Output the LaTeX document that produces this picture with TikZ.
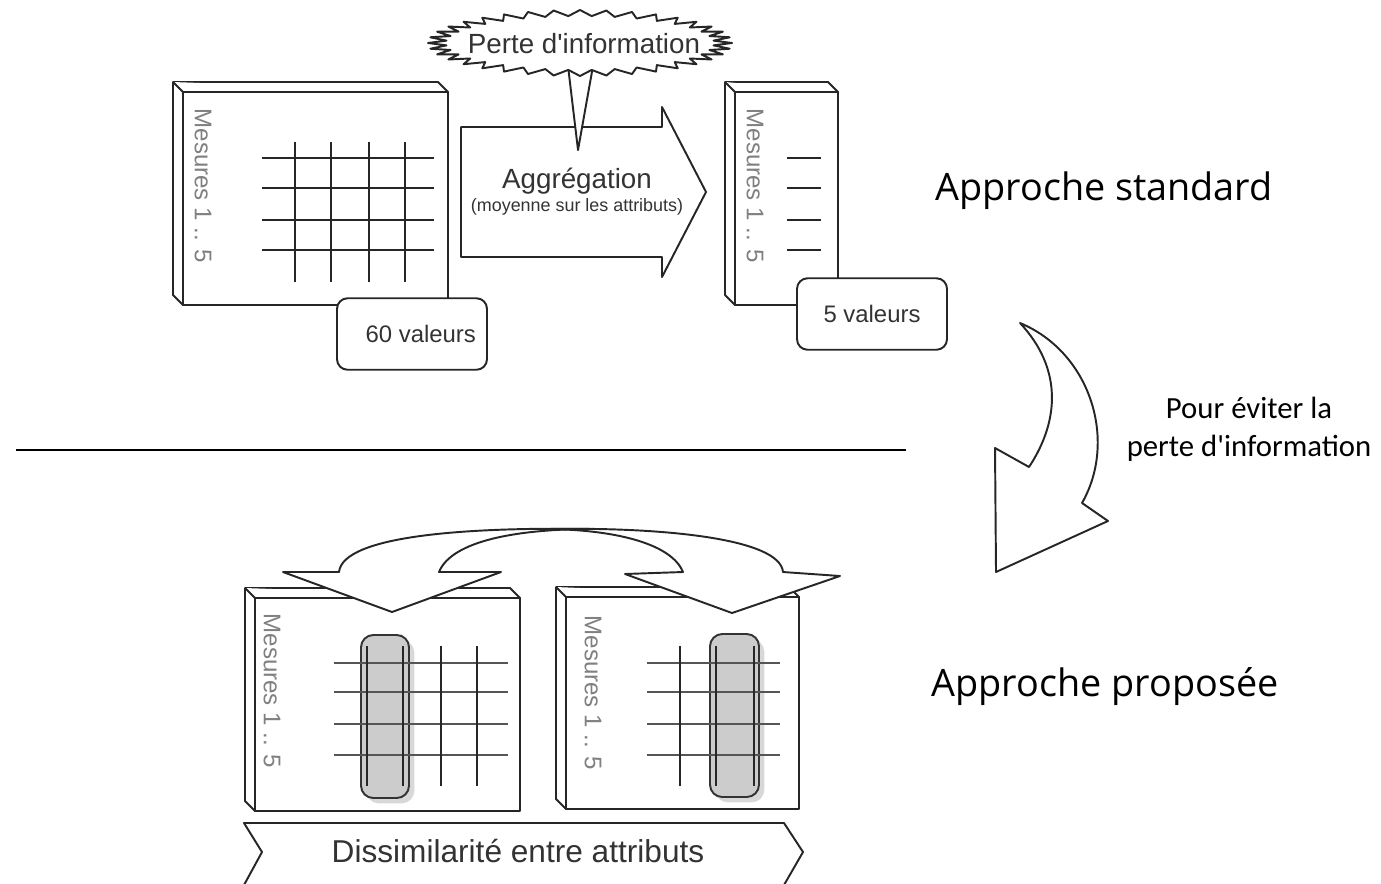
\documentclass[tikz,border=0pt]{standalone}
\usepackage{fontspec}
\setmainfont{Liberation Sans}
\newfontfamily\titlefont{Open Sans}
\newfontfamily\notefont{Carlito}
\usetikzlibrary{positioning,shadows}
\definecolor{txtgray}{HTML}{333333}
\definecolor{lblgray}{HTML}{808080}
\definecolor{hlgray}{HTML}{CCCCCC}
\definecolor{rulegray}{HTML}{555555}
\newcommand{\slabbox}[4]{%
  \draw[slab] (#1,#2) -- (#3-10,#2) -- (#3,#2+10) -- (#3,#4) -- (#1+10,#4) -- (#1,#4-10) -- cycle;
  \draw[slab] (#1,#2) -- (#1+10,#2+10) -- (#3,#2+10) (#1+10,#2+10) -- (#1+10,#4);
}

\begin{document}
\begin{tikzpicture}[x=0.02cm,y=-0.02cm,
  outline/.style={draw=black!85,line width=1.1pt,fill=white,line join=round},
  slab/.style={outline},
  gridline/.style={draw=black!85,line width=1.1pt},
  softline/.style={draw=rulegray,line width=1.4pt},
  lbl/.style={text=lblgray,font=\fontsize{13.7}{16}\selectfont,rotate=-90},
  valbox/.style={outline,rounded corners=6pt,minimum width=3cm,minimum height=1.43cm,
    text=txtgray,font=\fontsize{13.6}{16}\selectfont},
  hl/.style={draw=black!80,line width=1.1pt,fill=hlgray,rounded corners=7pt,
    drop shadow={opacity=0.3,shadow xshift=3pt,shadow yshift=-3pt}},
  title/.style={font=\titlefont\fontsize{21.5}{26}\selectfont},
  big/.style={text=txtgray,font=\fontsize{15.8}{19}\selectfont},
  small/.style={text=txtgray,font=\fontsize{10.2}{12}\selectfont},
  note/.style={font=\notefont\fontsize{17.5}{21.6}\selectfont,align=center}]
\useasboundingbox (0,0) rectangle (1381,883);

\slabbox{173}{82}{448}{305}
\foreach \y in {158,188,220,250} \draw[gridline] (262,\y) -- (434,\y);
\foreach \x in {295,331,369,405} \draw[gridline] (\x,142) -- (\x,282);
\node[lbl] (mesA) at (203,186) {Mesures 1 .. 5};
\node[valbox] (val60) at (412,334) {\hspace{10pt}60 valeurs};

\draw[outline] (461,127) -- (662,127) -- (662,107) -- (706,192) -- (662,277) -- (662,257) -- (461,257) -- cycle;
\node[big] (agg) at (577,181) {Aggrégation};
\node[small] (aggnote) at (577,207) {(moyenne sur les attributs)};

\draw[outline] (568,66) -- (578,150) -- (593,66);
\draw[outline] (732,43) \foreach \a in {0,10,...,350} { -- ({580+134*cos(\a+5)},{43+27*sin(\a+5)}) -- ({580+152*cos(\a+10)},{43+33*sin(\a+10)}) } -- cycle;
\node[big] (loss) at (584,44) {Perte d\textquotesingle information};

\slabbox{725}{82}{838}{305}
\foreach \y in {158,188,220,250} \draw[gridline] (787,\y) -- (821,\y);
\node[lbl] (mesB) at (755,186) {Mesures 1 .. 5};
\node[valbox] (val5) at (872,314) {5 valeurs};

\node[title] (std) at (1104,191) {Approche standard};

\draw[outline] (1020,323) .. controls (1090,352) and (1118,440) .. (1082,503) -- (1108,521) -- (996,572) -- (995,448) -- (1029,467) .. controls (1060,420) and (1062,368) .. (1020,323) -- cycle;
\node[note] (avoid) at (1249,429) {Pour éviter la\\perte d'information};

\draw[line width=1.1pt] (16,450) -- (906,450);

\slabbox{245}{588}{520}{811}
\draw[hl] (361,635) rectangle (409,798);
\foreach \y in {663,692,724,755} \draw[softline] (334,\y) -- (508,\y);
\foreach \x in {367,403,441,477} \draw[gridline] (\x,646) -- (\x,786);
\node[lbl] (mesC) at (272,691) {Mesures 1 .. 5};

\slabbox{556}{587}{799}{809}
\draw[hl] (710,634) rectangle (759,797);
\foreach \y in {663,692,724,755} \draw[softline] (647,\y) -- (780,\y);
\foreach \x in {680,716,754} \draw[gridline] (\x,646) -- (\x,786);
\node[lbl] (mesD) at (593,693) {Mesures 1 .. 5};

\fill[white] (283,572) -- (392,612) -- (501,572) -- (439,572) .. controls (452,540) and (520,529) .. (592,529) .. controls (470,527) and (343,535) .. (339,572) -- cycle;
\fill[white] (840,576) -- (732,613) -- (625,574) -- (683,572) .. controls (672,545) and (620,530) .. (548,529) .. controls (660,527) and (780,538) .. (783,572) -- cycle;
\draw[outline,fill=none] (283,572) -- (392,612) -- (501,572) -- (439,572) .. controls (452,540) and (520,529) .. (592,529) .. controls (470,527) and (343,535) .. (339,572) -- cycle;
\draw[outline,fill=none] (840,576) -- (732,613) -- (625,574) -- (683,572) .. controls (672,545) and (620,530) .. (548,529) .. controls (660,527) and (780,538) .. (783,572) -- cycle;

\node[title] (prop) at (1105,687) {Approche proposée};

\draw[outline] (244,823) -- (784,823) -- (803,852) -- (784,885) -- (244,885) -- (262,852) -- cycle;
\node[text=txtgray,font=\fontsize{18}{22}\selectfont] (dissim) at (518,851) {Dissimilarité entre attributs};
\end{tikzpicture}
\end{document}
